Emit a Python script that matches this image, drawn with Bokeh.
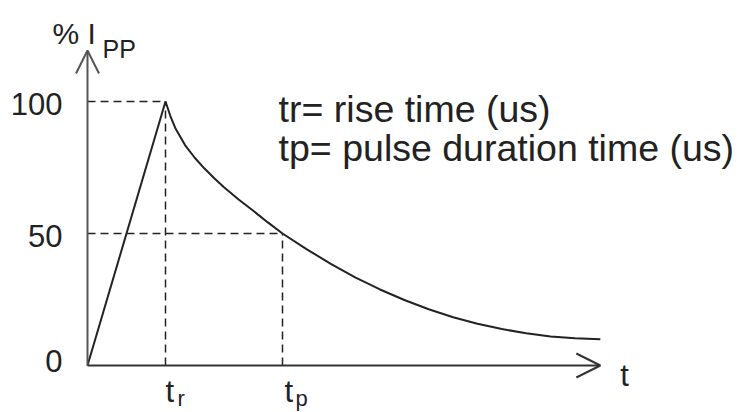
from bokeh.plotting import figure
from bokeh.models import Label, Arrow, OpenHead, Range1d
from bokeh.embed import file_html
from bokeh.resources import INLINE

# --- data (8/20 us surge waveform) ---
rise_t = [0, 8]
rise_pct = [0, 100]
decay_t = [8, 8.5, 9, 10, 11, 12, 13, 14, 15.5, 17, 18.5, 20, 22.5, 25, 27.5, 30, 32.5,
           35, 37.5, 40, 42.5, 45, 47.5, 50, 52.6]
decay_pct = [100, 94.5, 90.0, 83.5, 78.7, 74.6, 70.9, 67.5, 62.9, 58.6, 54.2, 50.0, 44.0,
             38.4, 33.3, 28.8, 24.8, 21.3, 18.3, 15.8, 13.8, 12.2, 11.0, 10.3, 9.9]
t_rise = 8
t_pulse = 20
peak_pct = 100
half_pct = 50
y_tick_values = [0, 50, 100]
y_tick_labels = ["0", "50", "100"]
x_axis_end = 52.6
y_axis_end = 119.3
notes = ["tr= rise time (us)", "tp= pulse duration time (us)"]

FONT = "Liberation Sans"
W, H = 738, 412
p = figure(width=W, height=H, output_backend="svg", toolbar_location=None,
           x_axis_type=None, y_axis_type=None, min_border=0,
           x_range=Range1d(-8.923, 66.77), y_range=Range1d(-17.8, 138.26))
p.grid.visible = False
p.outline_line_color = None
p.background_fill_color = "white"
p.border_fill_color = "white"

AX = "#555555"
# axes with open arrow heads
p.add_layout(Arrow(end=OpenHead(size=23, line_width=2, line_color=AX), x_start=0, y_start=0,
                   x_end=0, y_end=y_axis_end, line_width=2, line_color=AX))
p.add_layout(Arrow(end=OpenHead(size=24, line_width=2, line_color="#333333"), x_start=0, y_start=0,
                   x_end=x_axis_end, y_end=0, line_width=2, line_color="#333333"))

# dashed guides
DASH = "8 5"
p.line([0, t_rise], [peak_pct, peak_pct], line_dash=DASH, line_color="#222222", line_width=1.5)
p.line([t_rise, t_rise], [0, peak_pct], line_dash=DASH, line_color="#222222", line_width=1.5)
p.line([0, t_pulse], [half_pct, half_pct], line_dash=DASH, line_color="#222222", line_width=1.5)
p.line([t_pulse, t_pulse], [0, half_pct], line_dash=DASH, line_color="#222222", line_width=1.5)

# waveform
p.line(rise_t, rise_pct, line_color="#222222", line_width=2)
p.line(decay_t, decay_pct, line_color="#222222", line_width=2, line_join="round")

TXT = "#222222"
def lab(x, y, text, size, xo=0, yo=0, align="left", baseline="alphabetic"):
    p.add_layout(Label(x=x, y=y, text=text, x_offset=xo, y_offset=yo, text_align=align,
                       text_baseline=baseline, text_font=FONT, text_font_size=f"{size}px",
                       text_color=TXT))

# y tick labels
for v, s in zip(y_tick_values, y_tick_labels):
    lab(0, v, s, 31, xo=-25, yo=(5 if v == 0 else -2), align="right")

# y axis title: % I_PP
lab(0, y_axis_end, "% I", 30, xo=-35, yo=17)
lab(0, y_axis_end, "PP", 25, xo=15, yo=2)

# x markers t_r, t_p and axis name t
lab(t_rise, 0, "t", 31, xo=0, yo=-26)
lab(t_rise, 0, "r", 22, xo=12, yo=-33)
lab(t_pulse, 0, "t", 31, xo=2, yo=-26)
lab(t_pulse, 0, "p", 22, xo=13, yo=-33)
lab(x_axis_end, 0, "t", 31, xo=20, yo=-10)

# notes
lab(19.6, 97.3, notes[0], 37.5)
lab(19.6, 97.3, notes[1], 37.5, yo=-39)

open("out.html", "w").write(file_html(p, INLINE))
